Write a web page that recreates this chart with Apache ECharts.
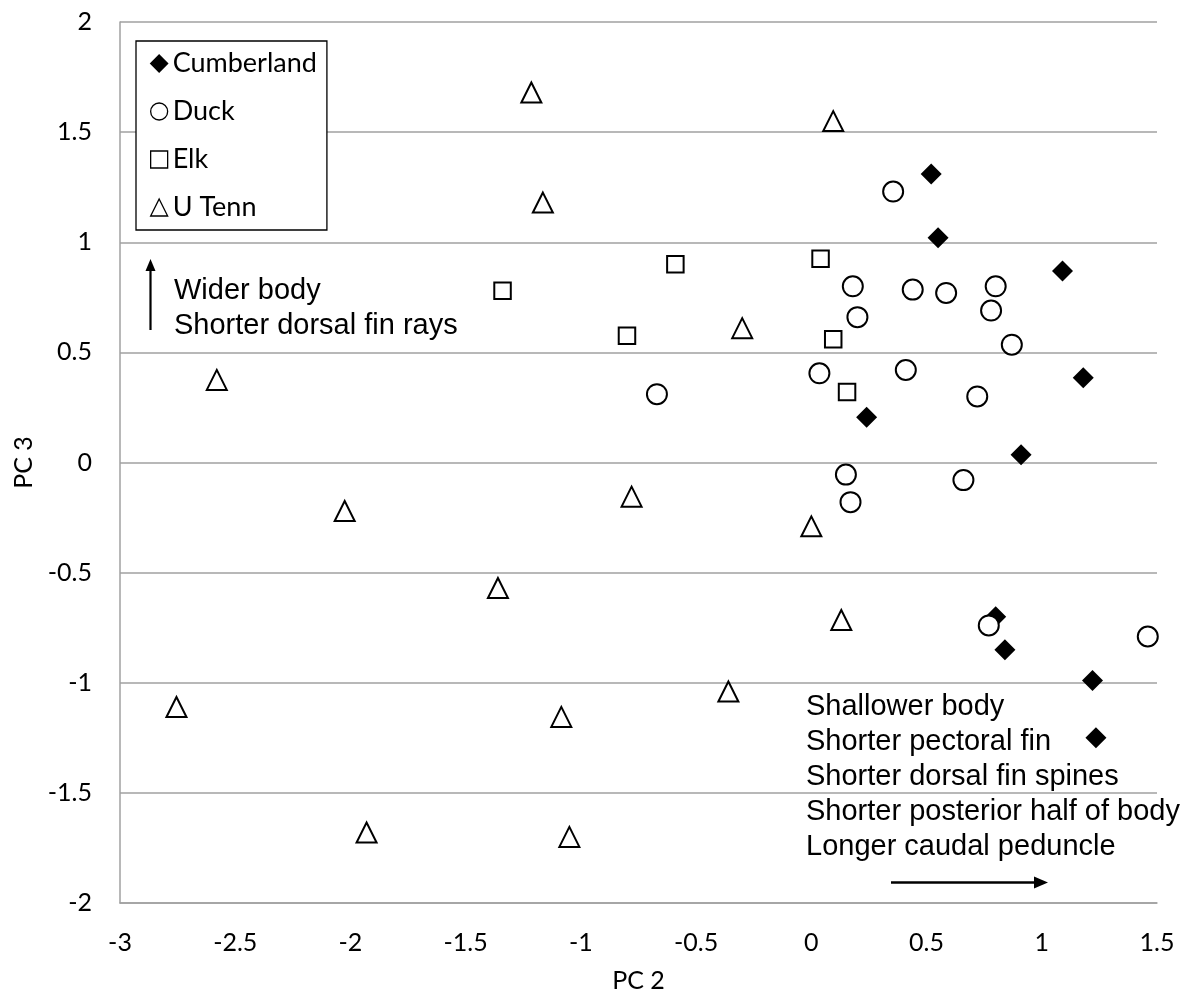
<!DOCTYPE html>
<html>
<head>
<meta charset="utf-8">
<script src="https://cdn.jsdelivr.net/npm/echarts@6/dist/echarts.min.js"></script>
<style>
html,body{margin:0;padding:0;background:#fff;}
#chart{width:1194px;height:995px;}
</style>
</head>
<body>
<div id="chart"></div>
<script>
// Series names
const seriesNames = ['Cumberland', 'Duck', 'Elk', 'U Tenn'];

// [PC 2, PC 3] values
const cumberland = [[0.52,1.31],[0.55,1.02],[1.09,0.87],[1.18,0.385],[0.24,0.205],[0.91,0.035],[0.80,-0.70],[0.84,-0.85],[1.22,-0.99],[1.235,-1.25]];
const duck = [[0.355,1.23],[0.18,0.80],[0.44,0.785],[0.585,0.77],[0.80,0.80],[0.78,0.69],[0.20,0.66],[0.87,0.535],[0.035,0.405],[0.41,0.42],[0.72,0.30],[-0.67,0.31],[0.15,-0.055],[0.66,-0.08],[0.17,-0.18],[0.77,-0.74],[1.46,-0.79]];
const elk = [[-1.34,0.78],[-0.59,0.90],[0.04,0.925],[-0.80,0.575],[0.095,0.56],[0.155,0.32]];
const uTenn = [[-1.215,1.68],[0.095,1.55],[-1.165,1.18],[-0.30,0.61],[-2.58,0.375],[-0.78,-0.155],[-2.025,-0.22],[0.0,-0.29],[-1.36,-0.57],[0.13,-0.715],[-0.36,-1.04],[-1.085,-1.155],[-2.755,-1.11],[-1.93,-1.68],[-1.05,-1.70]];

// Axis settings
const xMin = -3, xMax = 1.5, xStep = 0.5;
const yMin = -2, yMax = 2, yStep = 0.5;
const xName = 'PC 2', yName = 'PC 3';

// Annotation texts
const upText = ['Wider body', 'Shorter dorsal fin rays'];
const rightText = ['Shallower body', 'Shorter pectoral fin', 'Shorter dorsal fin spines', 'Shorter posterior half of body', 'Longer caudal peduncle'];

const gray = '#a0a0a0';
const tickFont = 'Lato, "Open Sans", sans-serif';
const annoFont = '"Liberation Sans", Arial, sans-serif';

const chart = echarts.init(document.getElementById('chart'), null, {renderer: 'canvas'});

function series(name, data, symbol, size, fill, z) {
  return {
    name: name, type: 'scatter', data: data, symbol: symbol, symbolSize: size, z: z,
    itemStyle: {color: fill, borderColor: '#000', borderWidth: fill === '#000' ? 0 : 2, opacity: 1},
    emphasis: {disabled: true}
  };
}

const option = {
  backgroundColor: '#fff',
  animation: false,
  grid: {left: 120, right: 37, top: 22, bottom: 92, containLabel: false, outerBoundsMode: 'none'},
  xAxis: {
    type: 'value', min: xMin, max: xMax, interval: xStep,
    name: xName, nameLocation: 'middle', nameGap: 65,
    nameTextStyle: {fontFamily: tickFont, fontSize: 25, color: '#000'},
    axisLine: {show: true, onZero: false, lineStyle: {color: gray, width: 1.5}},
    axisTick: {show: false},
    splitLine: {show: false},
    axisLabel: {fontFamily: tickFont, fontSize: 25, color: '#000', margin: 27}
  },
  yAxis: {
    type: 'value', min: yMin, max: yMax, interval: yStep,
    name: yName, nameLocation: 'middle', nameGap: 80, nameRotate: 90,
    nameTextStyle: {fontFamily: tickFont, fontSize: 25, color: '#000'},
    axisLine: {show: true, onZero: false, lineStyle: {color: gray, width: 1.5}},
    axisTick: {show: false},
    splitLine: {show: true, lineStyle: {color: gray, width: 1.5}},
    axisLabel: {fontFamily: tickFont, fontSize: 25, color: '#000', margin: 28}
  },
  legend: {
    orient: 'vertical', left: 136, top: 41,
    padding: [9, 10, 9, 14], itemGap: 21, itemWidth: 17, itemHeight: 17,
    borderColor: '#000', borderWidth: 1.3, backgroundColor: '#fff',
    textStyle: {fontFamily: tickFont, fontSize: 27, color: '#000'},
    itemStyle: {borderWidth: 1.3},
    data: seriesNames
  },
  series: [
    series(seriesNames[0], cumberland, 'diamond', 21, '#000', 2),
    series(seriesNames[1], duck, 'circle', 20, '#fff', 3),
    series(seriesNames[2], elk, 'rect', 16.5, '#fff', 4),
    series(seriesNames[3], uTenn, 'triangle', 20, '#fff', 5)
  ],
  graphic: [
    {type: 'text', left: 174, top: 273, style: {text: upText.join('\n'), font: '29px ' + annoFont, lineHeight: 35, fill: '#000'}},
    {type: 'text', left: 806, top: 689, style: {text: rightText.join('\n'), font: '29px ' + annoFont, lineHeight: 35, fill: '#000'}},
    // up arrow
    {type: 'line', shape: {x1: 150.5, y1: 330, x2: 150.5, y2: 268}, style: {stroke: '#000', lineWidth: 2.2}},
    {type: 'polygon', shape: {points: [[150.5, 259], [145.5, 271], [155.5, 271]]}, style: {fill: '#000'}},
    // right arrow
    {type: 'line', shape: {x1: 891, y1: 882.5, x2: 1037, y2: 882.5}, style: {stroke: '#000', lineWidth: 2.5}},
    {type: 'polygon', shape: {points: [[1048, 882.5], [1034, 876.5], [1034, 888.5]]}, style: {fill: '#000'}}
  ]
};
chart.setOption(option);
</script>
</body>
</html>
